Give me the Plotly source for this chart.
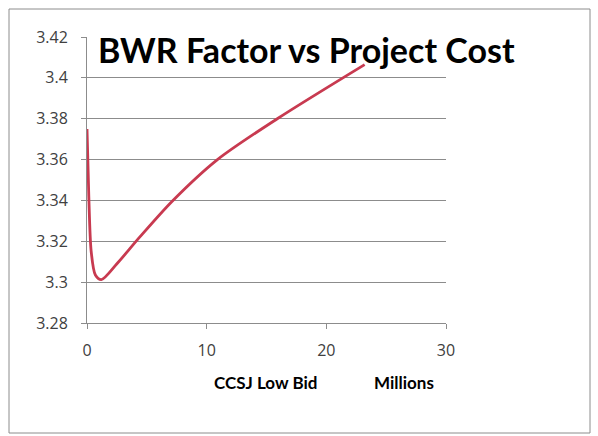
import plotly.graph_objects as go

# Data
bid_millions = [0, 0.15, 0.35, 0.7, 1.2, 2.5, 4.4, 7.1, 10.9, 15.9, 23.2]
bwr_factor = [3.375, 3.342, 3.315, 3.3035, 3.3012, 3.309, 3.322, 3.3395, 3.360, 3.380, 3.4065]

x_ticks = [0, 10, 20, 30]
y_ticks = [3.28, 3.30, 3.32, 3.34, 3.36, 3.38, 3.40, 3.42]
y_tick_labels = ["3.28", "3.3", "3.32", "3.34", "3.36", "3.38", "3.4", "3.42"]

title_text = "BWR Factor vs Project Cost"
x_title_left = "CCSJ Low Bid"
x_title_right = "Millions"

W, H = 598, 436
L, R, T, B = 87, 152, 37, 113

fig = go.Figure()
fig.add_trace(go.Scatter(
    x=bid_millions, y=bwr_factor, mode="lines",
    line=dict(color="#C83A50", width=2.8, shape="spline", smoothing=0.8),
    hoverinfo="x+y", showlegend=False,
))

tick_font = dict(family="Open Sans, Lato, sans-serif", size=16, color="#404040")

fig.update_layout(
    width=W, height=H,
    margin=dict(l=L, r=R, t=T, b=B),
    paper_bgcolor="white", plot_bgcolor="white",
    xaxis=dict(
        range=[0, 30], tickvals=x_ticks, ticktext=[str(v) for v in x_ticks],
        showgrid=False, zeroline=False,
        showline=True, linecolor="#8c8c8c", linewidth=1,
        ticks="outside", ticklen=5, tickcolor="#8c8c8c",
        tickfont=tick_font, ticklabelstandoff=8,
    ),
    yaxis=dict(
        range=[3.28, 3.42], tickvals=y_ticks, ticktext=y_tick_labels,
        showgrid=True, gridcolor="#8c8c8c", gridwidth=1, zeroline=False,
        showline=True, linecolor="#8c8c8c", linewidth=1,
        ticks="outside", ticklen=5, tickcolor="#8c8c8c",
        tickfont=tick_font, ticklabelstandoff=10,
    ),
)

pw = W - L - R
ph = H - T - B

def px_x(p):
    return (p - L) / pw

def px_y(p):
    return (H - B - p) / ph

fig.add_annotation(
    x=px_x(306), y=px_y(49), xref="paper", yref="paper",
    text="<b>" + title_text + "</b>", showarrow=False,
    font=dict(family="Lato, Open Sans, sans-serif", size=34, color="#000000"),
    xanchor="center", yanchor="middle",
)
fig.add_annotation(
    x=px_x(212), y=px_y(382), xref="paper", yref="paper",
    text="<b>" + x_title_left + "</b>", showarrow=False,
    font=dict(family="Lato, Open Sans, sans-serif", size=17, color="#000000"),
    xanchor="left", yanchor="middle",
)
fig.add_annotation(
    x=px_x(372), y=px_y(382), xref="paper", yref="paper",
    text="<b>" + x_title_right + "</b>", showarrow=False,
    font=dict(family="Lato, Open Sans, sans-serif", size=17, color="#000000"),
    xanchor="left", yanchor="middle",
)

# outer chart border
fig.add_shape(
    type="rect", xref="paper", yref="paper",
    x0=px_x(9), x1=px_x(590), y0=px_y(433), y1=px_y(9),
    line=dict(color="#8c8c8c", width=1), fillcolor="rgba(0,0,0,0)", layer="below",
)

fig.write_html("out.html", config={"displayModeBar": False},
               post_script="document.body.style.margin='0';")
